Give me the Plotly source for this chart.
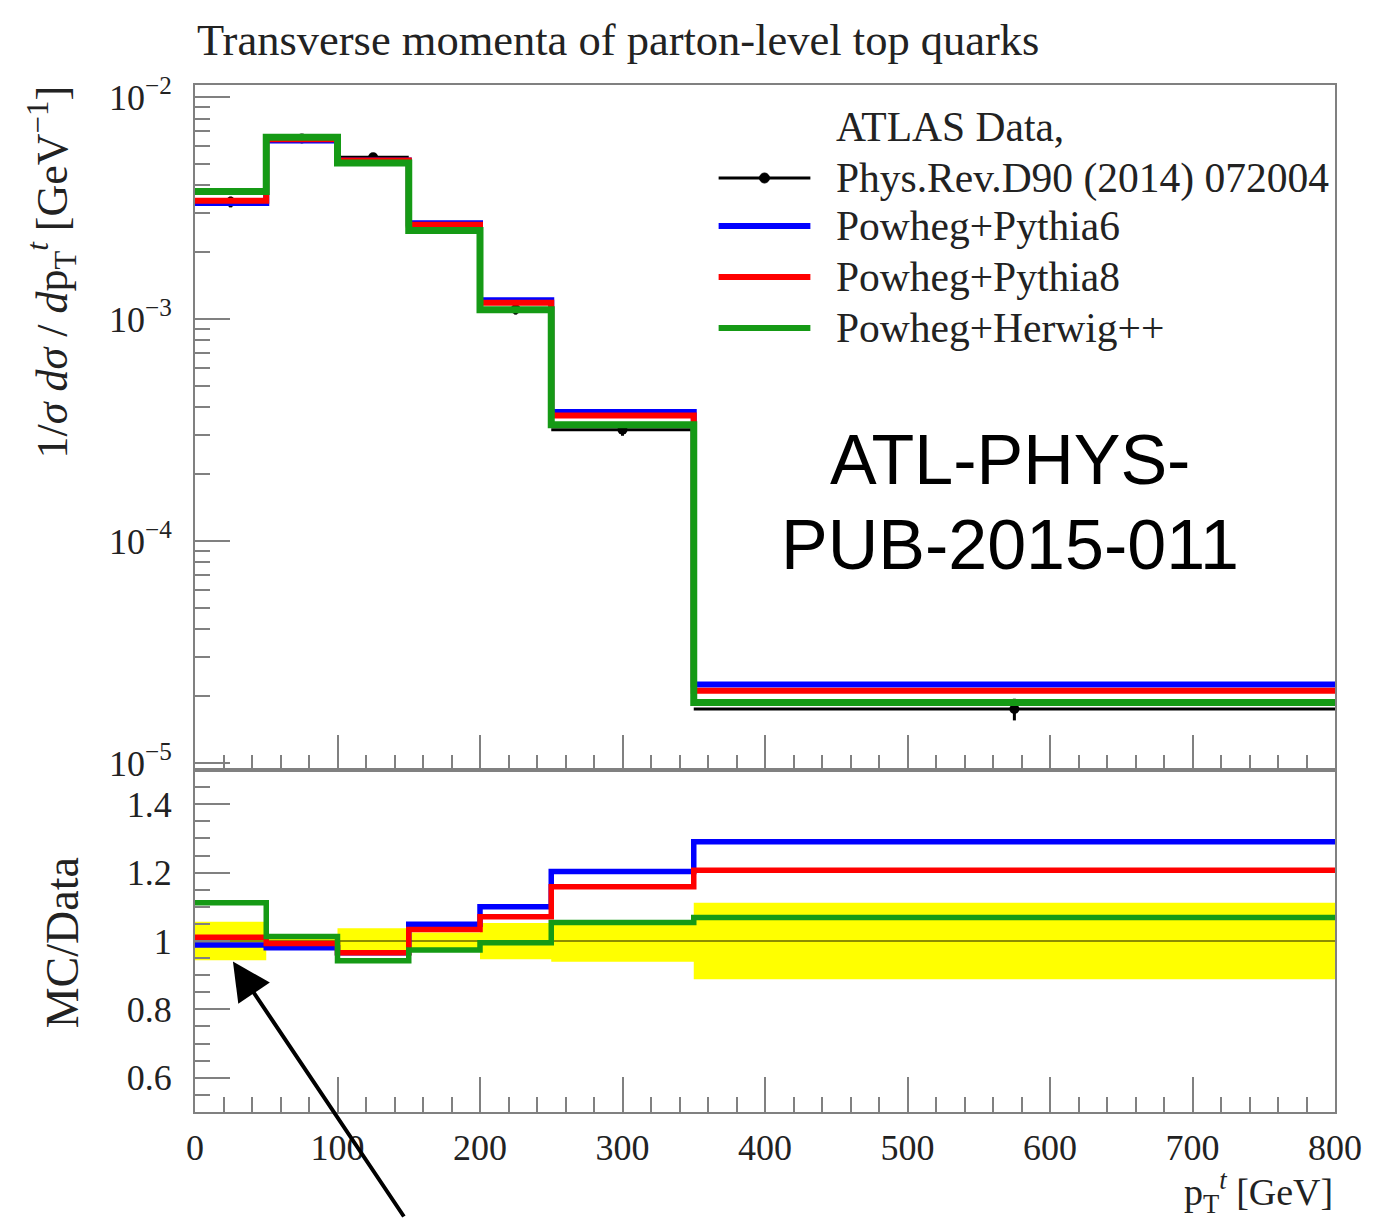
import plotly.graph_objects as go

# Binning of the top-quark transverse momentum [GeV]
bin_edges = [0, 50, 100, 150, 200, 250, 350, 800]

# Normalised ATLAS cross-section 1/sigma dsigma/dpT [GeV^-1] and relative uncertainty
data_xsec = [3.37e-3, 6.5e-3, 5.35e-3, 2.57e-3, 1.105e-3, 3.17e-4, 1.75e-5]
data_rel_unc = [0.056, 0.012, 0.037, 0.025, 0.053, 0.061, 0.112]

# MC / Data ratios per bin
ratio_pythia6 = [0.988, 0.980, 0.966, 1.049, 1.100, 1.203, 1.290]
ratio_pythia8 = [1.011, 0.993, 0.966, 1.034, 1.071, 1.159, 1.207]
ratio_herwig = [1.112, 1.013, 0.942, 0.974, 0.995, 1.054, 1.069]

series_names = ["Powheg+Pythia6", "Powheg+Pythia8", "Powheg+Herwig++"]
series_colors = ["#0000ff", "#ff0000", "#159a15"]
series_widths = [6, 6, 7]

# Tick labels
x_tick_vals = [0, 100, 200, 300, 400, 500, 600, 700, 800]
x_tick_text = ["0", "100", "200", "300", "400", "500", "600", "700", "800"]
main_tick_vals = [1e-5, 1e-4, 1e-3, 1e-2]
main_tick_text = ["10<sup>−5</sup>", "10<sup>−4</sup>", "10<sup>−3</sup>", "10<sup>−2</sup>"]
ratio_tick_vals = [0.6, 0.8, 1.0, 1.2, 1.4]
ratio_tick_text = ["0.6", "0.8", "1", "1.2", "1.4"]

SERIF = "Liberation Serif"
AXIS_GREY = "#808080"


def step_y(vals):
    return list(vals) + [vals[-1]]


centers = [(a + b) / 2 for a, b in zip(bin_edges[:-1], bin_edges[1:])]
half_widths = [(b - a) / 2 for a, b in zip(bin_edges[:-1], bin_edges[1:])]
ratios = [ratio_pythia6, ratio_pythia8, ratio_herwig]
mc_xsec = [[d * r for d, r in zip(data_xsec, rat)] for rat in ratios]

fig = go.Figure()

# ---- Upper panel: distributions ----
fig.add_trace(go.Scatter(
    x=centers, y=data_xsec, mode="markers", xaxis="x", yaxis="y",
    marker=dict(color="black", size=10, symbol="circle"),
    error_x=dict(type="data", array=half_widths, color="black", thickness=3, width=0),
    error_y=dict(type="data", array=[d * u for d, u in zip(data_xsec, data_rel_unc)],
                 color="black", thickness=3, width=0),
    name="Data",
))
for vals, name, col, w in zip(mc_xsec, series_names, series_colors, series_widths):
    fig.add_trace(go.Scatter(
        x=bin_edges, y=step_y(vals), mode="lines", line_shape="hv",
        line=dict(color=col, width=w), xaxis="x", yaxis="y", name=name,
    ))

# ---- Lower panel: ratios ----
band_lo = [1 - u for u in data_rel_unc]
band_hi = [1 + u for u in data_rel_unc]
fig.add_trace(go.Scatter(
    x=bin_edges, y=step_y(band_lo), mode="lines", line_shape="hv",
    line=dict(width=0, color="#ffff00"), xaxis="x2", yaxis="y2", hoverinfo="skip",
))
fig.add_trace(go.Scatter(
    x=bin_edges, y=step_y(band_hi), mode="lines", line_shape="hv",
    line=dict(width=0, color="#ffff00"), fill="tonexty", fillcolor="#ffff00",
    xaxis="x2", yaxis="y2", hoverinfo="skip",
))
fig.add_trace(go.Scatter(
    x=bin_edges, y=step_y([d / d for d in data_xsec]), mode="lines", line_shape="hv",
    line=dict(color="rgba(0,0,0,0.6)", width=1.5), xaxis="x2", yaxis="y2",
))
for vals, name, col in zip(ratios, series_names, series_colors):
    fig.add_trace(go.Scatter(
        x=bin_edges, y=step_y(vals), mode="lines", line_shape="hv",
        line=dict(color=col, width=5.5), xaxis="x2", yaxis="y2", name=name,
    ))

tick_font = dict(family=SERIF, size=36, color="#222")
common_axis = dict(showline=True, linecolor=AXIS_GREY, linewidth=2, mirror=True,
                   showgrid=False, zeroline=False, ticks="inside",
                   tickcolor=AXIS_GREY, tickwidth=2, tickfont=tick_font)

fig.update_layout(
    width=1374, height=1218,
    margin=dict(l=195, r=36, t=85, b=106),
    plot_bgcolor="white", paper_bgcolor="white",
    showlegend=False,
    font=dict(family=SERIF, color="#222"),
    xaxis=dict(domain=[0, 1], anchor="y", range=[0, 800], tickmode="array",
               tickvals=x_tick_vals, ticklen=35, showticklabels=False,
               minor=dict(dtick=20, tick0=0, ticks="inside", ticklen=15,
                          tickcolor=AXIS_GREY, tickwidth=2),
               **common_axis),
    yaxis=dict(domain=[0.333, 1], anchor="x", type="log", range=[-5.032, -1.946],
               tickmode="array", tickvals=main_tick_vals, ticktext=main_tick_text,
               ticklen=35, ticklabelstandoff=14,
               minor=dict(tickmode="array",
                          tickvals=[m * 10 ** e for e in (-5, -4, -3) for m in range(2, 10)],
                          ticks="inside", ticklen=15, tickcolor=AXIS_GREY, tickwidth=2),
               **common_axis),
    xaxis2=dict(domain=[0, 1], anchor="y2", range=[0, 800], matches="x", tickmode="array",
                tickvals=x_tick_vals, ticktext=x_tick_text, ticklen=35, ticklabelstandoff=3,
                minor=dict(dtick=20, tick0=0, ticks="inside", ticklen=15,
                           tickcolor=AXIS_GREY, tickwidth=2),
                **common_axis),
    yaxis2=dict(domain=[0, 0.333], anchor="x2", range=[0.5, 1.5], tickmode="array",
                tickvals=ratio_tick_vals, ticktext=ratio_tick_text, ticklen=35,
                ticklabelstandoff=14,
                minor=dict(dtick=0.05, tick0=0.5, ticks="inside", ticklen=15,
                           tickcolor=AXIS_GREY, tickwidth=2),
                **common_axis),
)

# Plot area in pixels: x 195..1338, y 85..1112
def px(xpix):
    return (xpix - 195) / 1143.0


def py(ypix):
    return (1112 - ypix) / 1027.0


annotations = [
    dict(text="Transverse momenta of parton-level top quarks", x=px(195), y=py(40),
         xanchor="left", yanchor="middle", font=dict(family=SERIF, size=44.5, color="#222")),
    dict(text="1/<i>σ</i> <i>dσ</i> / <i>d</i>p<sub>T</sub><sup><i>t</i></sup> [GeV<sup>−1</sup>]",
         x=px(52), y=py(84), xanchor="center", yanchor="top", textangle=-90,
         font=dict(family=SERIF, size=44, color="#222")),
    dict(text="MC/Data", x=px(62), y=py(943), xanchor="center", yanchor="middle",
         textangle=-90, font=dict(family=SERIF, size=46, color="#222")),
    dict(text="p<sub>T</sub><sup><i>t</i></sup> [GeV]", x=px(1338), y=py(1192),
         xanchor="right", yanchor="middle", font=dict(family=SERIF, size=38, color="#222")),
    dict(text="ATL-PHYS-", x=px(1012), y=py(460), xanchor="center", yanchor="middle",
         font=dict(family="Liberation Sans", size=70, color="black")),
    dict(text="PUB-2015-011", x=px(1012), y=py(545), xanchor="center", yanchor="middle",
         font=dict(family="Liberation Sans", size=70, color="black")),
]

legend_rows = [("ATLAS Data,", 127), ("Phys.Rev.D90 (2014) 072004", 178)] + \
    [(n, y) for n, y in zip(series_names, [226, 277, 328])]
for text, ypix in legend_rows:
    annotations.append(dict(text=text, x=px(836), y=py(ypix), xanchor="left",
                            yanchor="middle",
                            font=dict(family=SERIF, size=41.5, color="#222")))

for a in annotations:
    a.update(xref="paper", yref="paper", showarrow=False)

# Arrow pointing at the first ratio bin
annotations.append(dict(
    x=26.6, y=0.94, xref="x2", yref="y2", ax=172, ay=260, axref="pixel", ayref="pixel",
    showarrow=True, arrowhead=2, arrowsize=1.9, arrowwidth=4, arrowcolor="black", text="",
    standoff=0,
))
fig.update_layout(annotations=annotations)

# Legend line samples
shapes = [dict(type="line", x0=px(720), x1=px(812), y0=py(178), y1=py(178),
               line=dict(color="black", width=3)),
          dict(type="circle", x0=px(766) - 5 / 1143, x1=px(766) + 5 / 1143,
               y0=py(178) - 5 / 1027, y1=py(178) + 5 / 1027,
               fillcolor="black", line=dict(color="black", width=1))]
for col, ypix in zip(series_colors, [226, 277, 328]):
    shapes.append(dict(type="line", x0=px(720), x1=px(812), y0=py(ypix), y1=py(ypix),
                       line=dict(color=col, width=6)))
for s in shapes:
    s.update(xref="paper", yref="paper")
fig.update_layout(shapes=shapes)

fig.write_html("out.html")
